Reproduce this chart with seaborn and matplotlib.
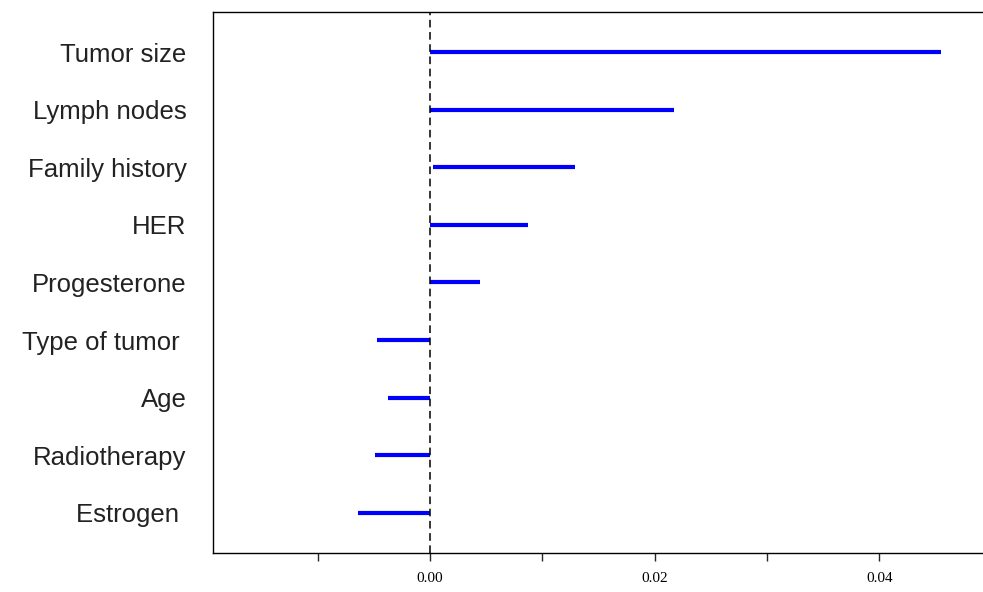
import matplotlib
matplotlib.use('Agg')
import matplotlib.pyplot as plt
import numpy as np
import pandas as pd
import seaborn as sns

sns.set_style('white')

features = ['Tumor size', 'Lymph nodes', 'Family history', 'HER', 'Progesterone',
            'Type of tumor ', 'Age', 'Radiotherapy', 'Estrogen ']
importance = [0.0455, 0.0217, 0.0129, 0.0087, 0.0045, -0.0047, -0.0037, -0.0049, -0.0064]
starts = [0.0, 0.0, 0.0003, 0.0, 0.0, 0.0, 0.0, 0.0, 0.0]

df = pd.DataFrame({'feature': features, 'value': importance, 'start': starts})
df['pos'] = np.arange(len(df))

fig = plt.figure(figsize=(9.83, 5.92), dpi=100)
ax = fig.add_axes([213 / 983, 1 - 553 / 592, 1 - 213 / 983 + 0.002, (553 - 12) / 592])

ax.hlines(df['pos'], df['start'], df['value'], color='#0000ff', linewidth=3)
ax.axvline(0, color='black', linestyle=(0, (5, 3)), linewidth=1.1)

ax.set_xlim(-0.0193, 0.0494)
ax.set_ylim(len(df) - 0.3, -0.7)
ax.set_yticks(df['pos'])
ax.set_yticklabels(df['feature'], fontsize=18.5, family='Liberation Sans', color='#222222')
ax.tick_params(axis='y', length=0, pad=19)

ax.set_xticks([-0.01, 0.0, 0.01, 0.02, 0.03, 0.04])
ax.set_xticklabels(['', '0.00', '', '0.02', '', '0.04'], fontsize=11,
                   family='Liberation Serif', color='black')
ax.tick_params(axis='x', direction='out', length=6, width=1, pad=8, bottom=True)

for s in ax.spines.values():
    s.set_color('black')
    s.set_linewidth(1)
ax.set_xlabel('')
ax.set_ylabel('')

fig.savefig('out.png', dpi=100)
